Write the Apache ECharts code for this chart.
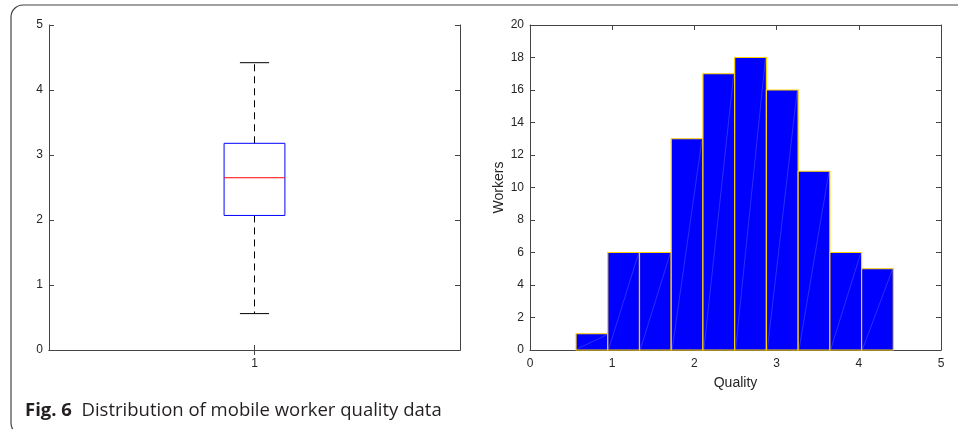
<!DOCTYPE html>
<html>
<head>
<meta charset="utf-8">
<script src="https://cdn.jsdelivr.net/npm/echarts@6/dist/echarts.min.js"></script>
<style>
html,body{margin:0;padding:0;background:#fff;}
#c{width:958px;height:429px;}
</style>
</head>
<body>
<div id="c"></div>
<script>
// ---- data ----
const boxCategories = ['1'];
const boxStats = [0.56, 2.07, 2.65, 3.18, 4.42]; // min, q1, median, q3, max
const binEdges = [0.56, 0.946, 1.332, 1.718, 2.104, 2.49, 2.876, 3.262, 3.648, 4.034, 4.42];
const binCounts = [1, 6, 6, 13, 17, 18, 16, 11, 6, 5];
const captionBold = 'Fig. 6';
const captionText = 'Distribution of mobile worker quality data';
const xName = 'Quality';
const yName = 'Workers';

const axisColor = '#444';
const textColor = '#262626';
const labelFont = 'Liberation Sans';

const histData = binCounts.map((c, i) => [binEdges[i], binEdges[i + 1], c]);
const boxData = [[0].concat(boxStats)];

function valAxis(gridIndex, pos, min, max, interval, showLabel, extra) {
  return Object.assign({
    type: 'value', gridIndex, position: pos, min, max, interval,
    axisLine: {show: true, onZero: false, lineStyle: {color: axisColor, width: 1}},
    axisTick: {show: true, inside: true, length: 5, lineStyle: {color: axisColor}},
    axisLabel: {show: showLabel, color: textColor, fontFamily: labelFont, fontSize: 12, margin: 6},
    splitLine: {show: false}
  }, extra || {});
}

const option = {
  animation: false,
  grid: [
    {left: 49, top: 25, width: 411, height: 325},
    {left: 530, top: 25, width: 411, height: 325}
  ],
  xAxis: [
    {
      type: 'category', gridIndex: 0, position: 'bottom', data: boxCategories,
      axisLine: {show: true, lineStyle: {color: axisColor}},
      axisTick: {show: true, inside: true, length: 5, alignWithLabel: true, lineStyle: {color: axisColor}},
      axisLabel: {color: textColor, fontFamily: labelFont, fontSize: 12, margin: 8},
      splitLine: {show: false}
    },
    {
      type: 'category', gridIndex: 0, position: 'top', data: boxCategories,
      axisLine: {show: true, lineStyle: {color: axisColor}},
      axisTick: {show: true, inside: true, length: 5, alignWithLabel: true, lineStyle: {color: axisColor}},
      axisLabel: {show: false},
      splitLine: {show: false}
    },
    valAxis(1, 'bottom', 0, 5, 1, true, {
      name: xName, nameLocation: 'middle', nameGap: 26,
      nameTextStyle: {color: textColor, fontFamily: labelFont, fontSize: 14},
      axisLabel: {show: true, color: textColor, fontFamily: labelFont, fontSize: 12, margin: 8}
    }),
    valAxis(1, 'top', 0, 5, 1, false)
  ],
  yAxis: [
    valAxis(0, 'left', 0, 5, 1, true),
    valAxis(0, 'right', 0, 5, 1, false),
    valAxis(1, 'left', 0, 20, 2, true, {
      name: yName, nameLocation: 'middle', nameGap: 24,
      nameTextStyle: {color: textColor, fontFamily: labelFont, fontSize: 14}
    }),
    valAxis(1, 'right', 0, 20, 2, false)
  ],
  series: [
    {
      type: 'custom', xAxisIndex: 0, yAxisIndex: 0,
      data: boxData,
      encode: {x: 0, y: [1, 2, 3, 4, 5]},
      renderItem: function (params, api) {
        const band = api.size([1, 0])[0];
        const cx = api.coord([api.value(0), 0])[0];
        const yMin = api.coord([0, api.value(1)])[1];
        const yQ1 = api.coord([0, api.value(2)])[1];
        const yMed = api.coord([0, api.value(3)])[1];
        const yQ3 = api.coord([0, api.value(4)])[1];
        const yMax = api.coord([0, api.value(5)])[1];
        const hb = band * 0.074;
        const hc = band * 0.0355;
        const dash = {stroke: '#000', lineWidth: 1, lineDash: [7, 5]};
        const solid = {stroke: '#000', lineWidth: 1};
        return {
          type: 'group',
          children: [
            {type: 'line', shape: {x1: cx, y1: yQ3, x2: cx, y2: yMax}, style: dash},
            {type: 'line', shape: {x1: cx, y1: yQ1, x2: cx, y2: yMin}, style: dash},
            {type: 'line', shape: {x1: cx - hc, y1: yMax, x2: cx + hc, y2: yMax}, style: solid},
            {type: 'line', shape: {x1: cx - hc, y1: yMin, x2: cx + hc, y2: yMin}, style: solid},
            {type: 'rect', shape: {x: cx - hb, y: yQ3, width: 2 * hb, height: yQ1 - yQ3},
              style: {fill: 'none', stroke: '#0000FF', lineWidth: 1}},
            {type: 'line', shape: {x1: cx - hb, y1: yMed, x2: cx + hb, y2: yMed},
              style: {stroke: '#FF0000', lineWidth: 1}}
          ]
        };
      }
    },
    {
      type: 'custom', xAxisIndex: 2, yAxisIndex: 2,
      data: histData,
      encode: {x: [0, 1], y: 2},
      renderItem: function (params, api) {
        const p0 = api.coord([api.value(0), 0]);
        const p1 = api.coord([api.value(1), api.value(2)]);
        return {
          type: 'group',
          children: [
            {type: 'rect', shape: {x: p0[0], y: p1[1], width: p1[0] - p0[0], height: p0[1] - p1[1]},
              style: {fill: '#0000FF', stroke: '#FFD200', lineWidth: 1.2}},
            {type: 'line', shape: {x1: p0[0] + 1, y1: p0[1] - 1, x2: p1[0] - 1, y2: p1[1] + 1},
              style: {stroke: 'rgba(170,170,255,0.45)', lineWidth: 0.6}}
          ]
        };
      }
    }
  ],
  graphic: [
    {
      type: 'rect', silent: true,
      shape: {x: 11, y: 5, width: 1000, height: 430, r: 12},
      style: {fill: 'none', stroke: '#444', lineWidth: 1.2}
    },
    {
      type: 'text', x: 25, y: 401,
      style: {
        text: '{b|' + captionBold + '}  ' + captionText,
        fontFamily: 'Open Sans', fontSize: 18.5, fill: '#231f20',
        rich: {b: {fontFamily: 'Open Sans', fontWeight: 'bold', fontSize: 18.5, fill: '#231f20'}}
      }
    }
  ]
};

const chart = echarts.init(document.getElementById('c'), null, {renderer: 'canvas'});
chart.setOption(option);
</script>
</body>
</html>
